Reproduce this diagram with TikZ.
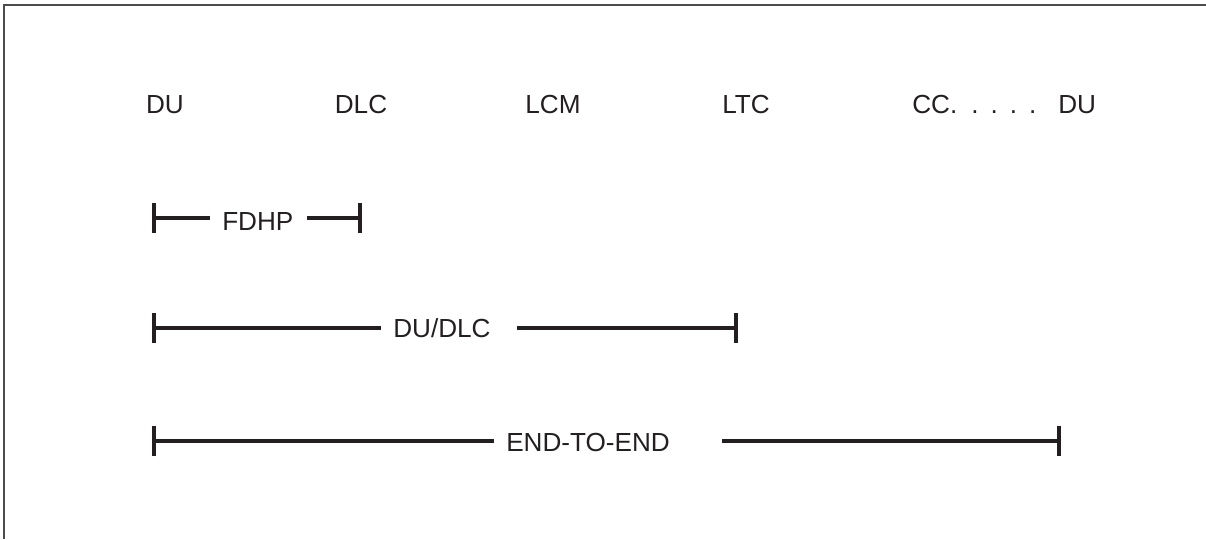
\documentclass[tikz,border=0pt]{standalone}
\usepackage{fontspec}
\setmainfont{Liberation Sans}
\usetikzlibrary{arrows.meta}
\definecolor{InkGray}{RGB}{35, 31, 32}

\begin{document}
\begin{tikzpicture}[
  x=0.75pt, y=-0.75pt,
  every node/.style={font=\fontsize{19.6}{23}\selectfont, text=InkGray, inner sep=0pt},
  unit/.style={anchor=base},
  spanlbl/.style={anchor=base west},
  seg/.style={line width=3pt, draw=InkGray},
  lseg/.style={seg, {Bar[width=22.5pt]}-, shorten >=9pt},
  rseg/.style={seg, -{Bar[width=22.5pt]}}
]
  \useasboundingbox (0,0) rectangle (1206,539);

  %% Frame (top and left edges only)
  \draw[line width=1.1pt, draw=black!70] (4,539) -- (4,5) -- (1206,5);

  %% Row 1: the units  (baseline y = 113)
  \node[unit] (du)   at (165,113) {DU};
  \node[unit] (dlc)  at (361,113) {DLC};
  \node[unit] (lcm)  at (553,113) {LCM};
  \node[unit] (ltc)  at (746,113) {LTC};
  \node[spanlbl] (ccdu) at (912,113)
    {CC.\hspace{10.5pt}.\hspace{9pt}.\hspace{9pt}.\hspace{9pt}.\hspace{16.5pt}DU};

  %% Row 2: FDHP  (y = 218)
  \coordinate (fdhpL) at (152,218);
  \coordinate (fdhpM) at (307,218);
  \coordinate (fdhpR) at (362,218);
  \node[spanlbl] (fdhp) at (222,230) {FDHP};

  %% Row 3: DU/DLC  (y = 328)
  \coordinate (dudlcL) at (152,328);
  \coordinate (dudlcM) at (517,328);
  \coordinate (dudlcR) at (738,328);
  \node[spanlbl] (dudlc) at (393,337) {DU/DLC};

  %% Row 4: END-TO-END  (y = 441)
  \coordinate (e2eL) at (152,441);
  \coordinate (e2eM) at (722,441);
  \coordinate (e2eR) at (1061,441);
  \node[spanlbl] (e2e) at (506,451) {END-TO-END};

  %% Spans
  \draw[lseg] (fdhpL)  -- (fdhpL -| fdhp.west);
  \draw[rseg] (fdhpM)  -- (fdhpR);
  \draw[lseg] (dudlcL) -- (dudlcL -| dudlc.west);
  \draw[rseg] (dudlcM) -- (dudlcR);
  \draw[lseg] (e2eL)   -- (e2eL -| e2e.west);
  \draw[rseg] (e2eM)   -- (e2eR);
\end{tikzpicture}
\end{document}
